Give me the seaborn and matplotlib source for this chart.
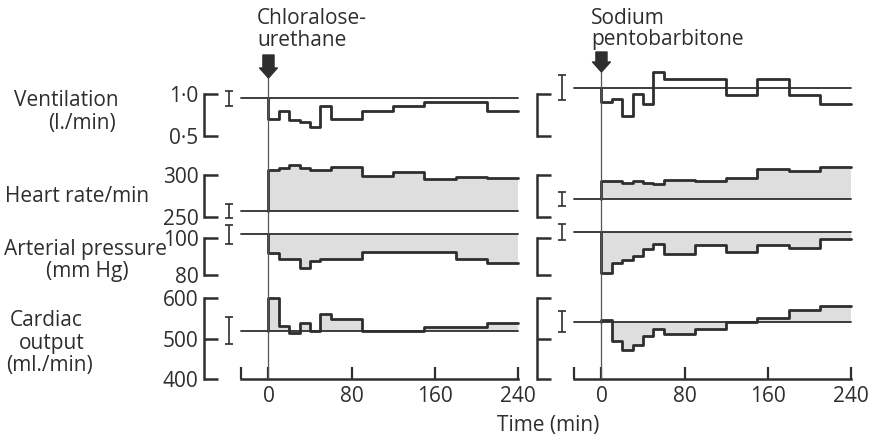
import matplotlib.pyplot as plt
import seaborn as sns

# time bins (min) after the anaesthetic
times = [0, 10, 20, 30, 40, 50, 60, 90, 120, 150, 180, 210, 240]

# chloralose-urethane group (left panel), one value per bin
vent_cu = [0.70, 0.80, 0.69, 0.665, 0.61, 0.85, 0.70, 0.80, 0.85, 0.90, 0.90, 0.80]
hr_cu = [306, 308, 312, 308, 306, 306, 309, 299, 303, 295, 298, 296]
ap_cu = [92.2, 88.7, 88.7, 84.0, 87.6, 88.7, 88.7, 92.7, 92.7, 92.7, 88.6, 86.7]
co_cu = [600, 531, 515, 540, 520, 562, 550, 520, 520, 529, 529, 540]
base_cu = [0.944, 257, 102.3, 520]
sem_cu = [0.087, 8, 5.2, 34]

# sodium pentobarbitone group (right panel)
vent_sp = [0.90, 0.93, 0.74, 0.99, 0.88, 1.25, 1.17, 1.17, 0.98, 1.17, 0.98, 0.88]
hr_sp = [292.8, 292.8, 290, 292.8, 290, 288.8, 294, 292.8, 296, 307, 305, 309]
ap_sp = [80.9, 86.4, 88.2, 90.6, 93.9, 96.8, 91.4, 96.3, 92.7, 96.6, 94.7, 99.6]
co_sp = [547, 494, 472, 484, 506, 523, 513, 524, 541, 551, 570, 580]
base_sp = [1.07, 271, 103.3, 542]
sem_sp = [0.15, 8.6, 4.3, 26]

scale_ticks = [[0.5, 1.0], [250, 300], [80, 100], [400, 500, 600]]
scale_labels = [['0·5', '1·0'], ['250', '300'], ['80', '100'], ['400', '500', '600']]
time_ticks = [0, 80, 160, 240]

sns.set_style("white")
plt.rcParams['font.family'] = ['Open Sans', 'DejaVu Sans']

INK = '#2e2e2e'
SHADE = '#dedede'
FS = 15
W, H = 870, 438
T0 = -26.5      # start of the time axis / baseline
XLIM = (-62, 240)

fig = plt.figure(figsize=(W / 100, H / 100), dpi=100)


def px_axes(x0, x1, y_top, y_bot):
    return fig.add_axes([x0 / W, 1 - y_bot / H, (x1 - x0) / W, (y_bot - y_top) / H])


def ftxt(x, y, s, **kw):
    fig.text(x / W, 1 - y / H, s, color=INK, fontsize=FS, va='center', **kw)


# row layout in pixels (top, bottom of the scale bracket)
rows_px = [(93.5, 136), (175, 216.7), (238.3, 275), (298.3, 379.3)]
shaded = [False, True, True, True]

panels = [
    (204, [vent_cu, hr_cu, ap_cu, co_cu], base_cu, sem_cu, True, (55, 78)),
    (537, [vent_sp, hr_sp, ap_sp, co_sp], base_sp, sem_sp, False, (52, 72)),
]

for x0, series, bases, sems, show_labels, arrow_px in panels:
    x1 = x0 + 314
    for i, (vals, base, sem) in enumerate(zip(series, bases, sems)):
        top, bot = rows_px[i]
        ax = px_axes(x0, x1, top, bot)
        ax.patch.set_alpha(0)
        ax.set_xlim(*XLIM)
        ticks = scale_ticks[i]
        ax.set_ylim(ticks[0], ticks[-1])
        for s in ['top', 'right', 'bottom']:
            ax.spines[s].set_visible(False)
        ax.spines['left'].set_linewidth(1.8)
        ax.spines['left'].set_color(INK)
        ax.set_yticks(ticks, scale_labels[i])
        ax.tick_params(axis='y', left=True, direction='in', length=10, width=1.8, pad=4,
                       labelsize=FS, colors=INK, labelleft=show_labels)
        if i == 3:
            ax.spines['bottom'].set_visible(True)
            ax.spines['bottom'].set_bounds(T0, 240)
            ax.spines['bottom'].set_linewidth(1.8)
            ax.spines['bottom'].set_color(INK)
            ax.set_xticks([T0] + time_ticks, [''] + [str(t) for t in time_ticks])
            ax.tick_params(axis='x', bottom=True, direction='in', length=9, width=1.6,
                           pad=5, labelsize=FS, colors=INK)
        else:
            ax.set_xticks([])

        yv = vals + [vals[-1]]
        if shaded[i]:
            ax.fill_between(times, base, yv, step='post', color=SHADE, lw=0,
                            zorder=0, clip_on=False)
        ax.plot([T0, 240], [base, base], color=INK, lw=1.3, clip_on=False)
        sns.lineplot(x=[0] + times, y=[base] + yv, ax=ax, estimator=None, sort=False,
                     drawstyle='steps-post', color=INK, lw=2.0, clip_on=False)
        ax.errorbar(-38, base, yerr=sem, fmt='none', ecolor=INK, elinewidth=1.2,
                    capsize=3, capthick=1.2, clip_on=False)
        ax.set_xlabel('')
        ax.set_ylabel('')

    # t = 0 marker line and drug arrow
    ov = px_axes(x0, x1, 40, 379.3)
    ov.patch.set_alpha(0)
    ov.set_xlim(*XLIM)
    ov.set_ylim(379.3, 40)
    ov.axis('off')
    ov.plot([0, 0], [arrow_px[1], 379.3], color='#555555', lw=0.9)
    ov.annotate('', xy=(0, arrow_px[1]), xytext=(0, arrow_px[0]),
                arrowprops=dict(arrowstyle='simple,head_length=0.45,head_width=0.8,tail_width=0.5',
                                fc=INK, ec=INK, mutation_scale=16, shrinkA=0, shrinkB=0))

ftxt(257, 18, 'Chloralose-', ha='left')
ftxt(257, 40, 'urethane', ha='left')
ftxt(591, 18, 'Sodium', ha='left')
ftxt(591, 40, 'pentobarbitone', ha='left')

ftxt(66, 101, 'Ventilation', ha='center')
ftxt(82, 123, '(l./min)', ha='center')
ftxt(77, 196, 'Heart rate/min', ha='center')
ftxt(85, 250, 'Arterial pressure', ha='center')
ftxt(87, 272, '(mm Hg)', ha='center')
ftxt(46, 320, 'Cardiac', ha='center')
ftxt(52, 343, 'output', ha='center')
ftxt(50, 366, '(ml./min)', ha='center')
ftxt(548, 425, 'Time (min)', ha='center')

fig.savefig('out.png', dpi=100)
